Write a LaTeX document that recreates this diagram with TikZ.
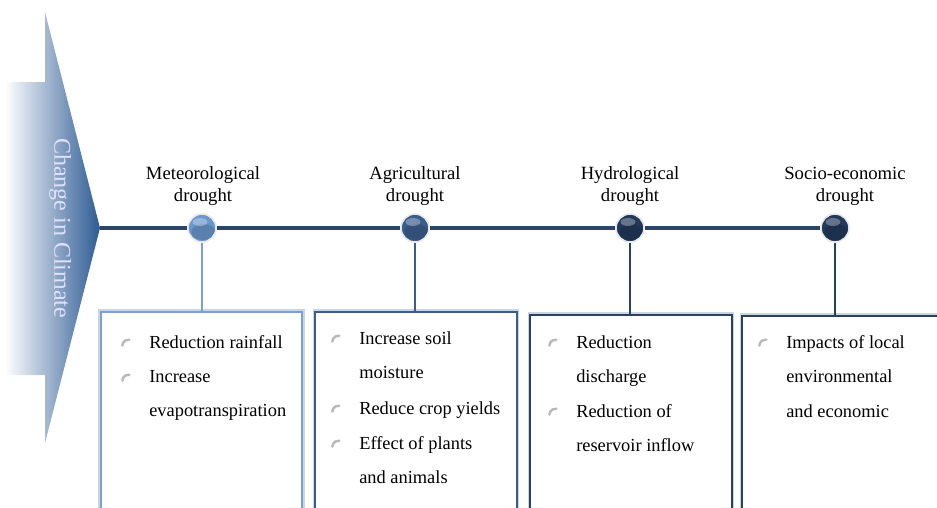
\documentclass[tikz,border=0pt]{standalone}
\usepackage{fontspec}
\setmainfont{Liberation Serif}
\definecolor{lineblue}{HTML}{2C4566}
\definecolor{cmet}{HTML}{6A97CC}
\definecolor{bmet}{HTML}{7B9FD0}
\definecolor{cagr}{HTML}{3B5D8C}
\definecolor{chyd}{HTML}{22395A}
\definecolor{bdark}{HTML}{2A4060}
\definecolor{halo}{HTML}{CBD5E1}
\definecolor{arrowblue}{HTML}{2E5B94}
\begin{document}
\begin{tikzpicture}[x=0.75pt,y=-0.75pt,
 dot/.style={circle,inner sep=0pt,minimum size=21pt,fill=#1,draw=white!82!gray,line width=1.2pt,
   path picture={\begin{scope}[shift={(path picture bounding box.center)}]
     \fill[black,opacity=0.15] (1pt,-3pt) ellipse (9pt and 6pt);
     \fill[white,opacity=0.3,rotate=25] (-1.5pt,4.5pt) ellipse (5.5pt and 3pt);
   \end{scope}}},
 box/.style={anchor=north,fill=white,draw=#1,line width=1.3pt,minimum width=151pt,minimum height=160pt,
   preaction={draw=halo,line width=4pt}},
 tl/.style={draw=lineblue,line width=3pt},
 drop/.style={draw=#1,line width=2.2pt},
 lab/.style={align=center,font=\fontsize{14}{16.5}\selectfont},
 item/.style={anchor=north west,inner sep=0pt,align=left,font=\fontsize{13.8}{26}\selectfont},
 bul/.style={draw=gray!55,line width=1.8pt,line cap=round}]
\useasboundingbox (0,0) rectangle (937,507);
\clip (0,0) rectangle (937,507);
% big arrow on the left
\shade[left color=white,right color=arrowblue]
  (5,82) -- (45,82) -- (45,12) -- (100,228) -- (45,443) -- (45,375) -- (5,375) -- cycle;
\node[rotate=-90,text=white!88!blue,font=\fontsize{18}{20}\selectfont] (cc) at (60,228) {Change in Climate};
\coordinate (tip) at (100,228);
% boxes
\node[box=bmet] (b1) at (201.5,311) {};
\node[box=cagr] (b2) at (416,311) {};
\node[box=bdark] (b3) at (631,314) {};
\node[box=bdark] (b4) at (843,315) {};
% timeline
\node[dot=cmet] (m) at (202,228) {};
\node[dot=cagr] (a) at (415,228) {};
\node[dot=chyd] (h) at (630,228) {};
\node[dot=chyd] (s) at (835,228) {};
\draw[tl] (tip) -- (m) -- (a) -- (h) -- (s);
\draw[drop=bmet] (m) -- (m |- b1.north);
\draw[drop=cagr] (a) -- (a |- b2.north);
\draw[drop=bdark] (h) -- (h |- b3.north);
\draw[drop=bdark] (s) -- (s |- b4.north);
% labels
\node[lab] (lm) at (203,186) {Meteorological\\drought};
\node[lab] (la) at (415,186) {Agricultural\\drought};
\node[lab] (lh) at (630,186) {Hydrological\\drought};
\node[lab] (ls) at (845,186) {Socio-economic\\drought};
% box texts
\node[item] (b11) at (149,335) {Reduction rainfall};
\node[item] (b12) at (149,370) {Increase\\evapotranspiration};
\node[item] (b21) at (359,331) {Increase soil\\moisture};
\node[item] (b22) at (359,401) {Reduce crop yields};
\node[item] (b23) at (359,436) {Effect of plants\\and animals};
\node[item] (b31) at (576,335) {Reduction\\discharge};
\node[item] (b32) at (576,404) {Reduction of\\reservoir inflow};
\node[item] (b41) at (786,335) {Impacts of local\\environmental\\and economic};
\foreach \i in {b11,b12,b21,b22,b23,b31,b32,b41}
  \draw[bul] ([shift={(-20pt,-8pt)}]\i.north west) arc[start angle=180,end angle=80,radius=4.5pt];
\end{tikzpicture}
\end{document}
